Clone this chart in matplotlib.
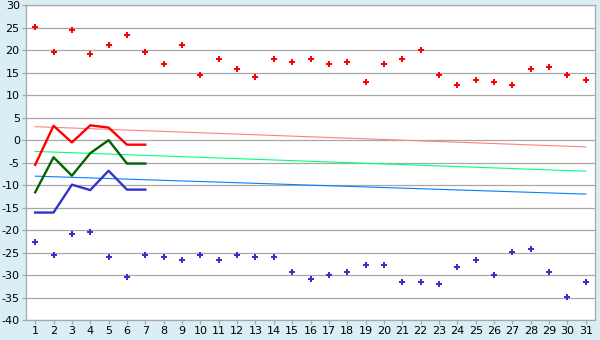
import numpy as np
import matplotlib
matplotlib.use("Agg")
import matplotlib.pyplot as plt

plt.rcParams['axes.unicode_minus'] = False

days = list(range(1, 32))

# scattered points
red_pts = [25.1, 19.6, 24.4, 19.1, 21.1, 23.3, 19.6, 16.9, 21.1, 14.4,
           18.0, 15.8, 14.0, 18.0, 17.3, 18.0, 16.9, 17.3, 12.9, 16.9,
           18.0, 20.0, 14.4, 12.2, 13.3, 12.9, 12.2, 15.8, 16.2, 14.4, 13.3]
blue_pts = [-22.7, -25.6, -20.9, -20.4, -26.0, -30.4, -25.6, -26.0, -26.7, -25.6,
            -26.7, -25.6, -26.0, -26.0, -29.3, -30.9, -30.0, -29.3, -27.8, -27.8,
            -31.6, -31.6, -32.0, -28.2, -26.7, -30.0, -24.9, -24.2, -29.3, -34.9, -31.6]

# thick lines, first week
week = [1, 2, 3, 4, 5, 6, 7]
red_line = [-5.5, 3.2, -0.5, 3.3, 2.8, -1.0, -1.0]
green_line = [-11.6, -3.8, -7.9, -2.9, 0.0, -5.2, -5.2]
blue_line = [-16.1, -16.1, -9.9, -11.1, -6.8, -11.0, -11.0]

# thin trend lines (value at day 1, value at day 31)
trend_x = [1, 31]
red_trend = [3.0, -1.5]
green_trend = [-2.5, -6.9]
blue_trend = [-8.0, -12.0]

bg = '#daeef5'
fig = plt.figure(figsize=(6, 3.4), dpi=100, facecolor=bg)
ax = fig.add_axes([26/600, 20/340, 569/600, 314.7/340])
ax.set_facecolor('white')

ax.plot(trend_x, red_trend, color='#ff8080', lw=0.8)
ax.plot(trend_x, green_trend, color='#00ff80', lw=0.8)
ax.plot(trend_x, blue_trend, color='#0080ff', lw=0.8)

ax.plot(week, red_line, color='#ff0000', lw=1.7)
ax.plot(week, green_line, color='#006400', lw=1.7)
ax.plot(week, blue_line, color='#3333cc', lw=1.7)

ax.plot(days, red_pts, linestyle='none', marker='P', ms=4.6, color='#ff0000', mew=0)
ax.plot(days, blue_pts, linestyle='none', marker='P', ms=4.6, color='#3333cc', mew=0)

ax.set_xlim(0.5, 31.5)
ax.set_ylim(-40, 30)
ax.set_xticks(days)
ax.set_yticks(range(-40, 31, 5))
ax.yaxis.grid(True, color='#a8a8a8', lw=0.9)
ax.set_axisbelow(True)
for s in ax.spines.values():
    s.set_color('#a8a8a8')
    s.set_linewidth(0.9)
ax.tick_params(axis='both', colors='#a8a8a8', labelcolor='black', labelsize=8,
               length=3, width=0.9, pad=1.5)

fig.savefig('out.png', dpi=100, facecolor=bg)
